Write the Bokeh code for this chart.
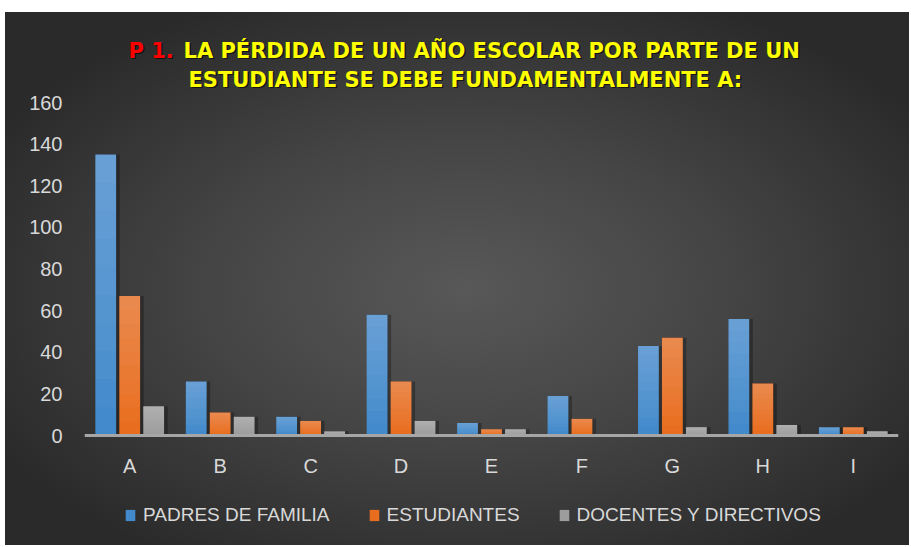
from bokeh.plotting import figure
from bokeh.models import (FactorRange, Range1d, Label, Legend, LegendItem,
                          FixedTicker, ColumnDataSource)
from bokeh.transform import dodge
from bokeh.embed import file_html
from bokeh.resources import INLINE

# ---- data ----
categories = ["A", "B", "C", "D", "E", "F", "G", "H", "I"]
padres = [135, 26, 9, 58, 6, 19, 43, 56, 4]
estudiantes = [67, 11, 7, 26, 3, 8, 47, 25, 4]
docentes = [14, 9, 2, 7, 3, 0, 4, 5, 2]
series_names = ["PADRES DE FAMILIA", "ESTUDIANTES", "DOCENTES Y DIRECTIVOS"]
y_ticks = [0, 20, 40, 60, 80, 100, 120, 140, 160]
title_prefix = "P 1."
title_line1 = "LA PÉRDIDA DE UN AÑO ESCOLAR POR PARTE DE UN"
title_line2 = "ESTUDIANTE SE DEBE FUNDAMENTALMENTE A:"

colors = ["#428acc", "#e96d1e", "#9d9d9d"]
fields = ["padres", "estudiantes", "docentes"]
offsets = [-0.265, 0.0, 0.265]

data = dict(cat=categories, padres=padres, estudiantes=estudiantes, docentes=docentes)
source = ColumnDataSource(data)

# layout geometry (pixels)
W, H = 904, 533
frame_left, frame_right = 79, 11
px_per_unit = 333 / 160.0          # 0..160 spans 333 px
top_pad, bottom_pad = 90, 110      # frame space above 160 and below 0
y_lo = -bottom_pad / px_per_unit
y_hi = y_ticks[-1] + top_pad / px_per_unit

p = figure(x_range=FactorRange(*categories, range_padding=0),
           y_range=Range1d(y_lo, y_hi),
           width=W, height=H, output_backend="svg", toolbar_location=None,
           min_border_left=frame_left, min_border_right=frame_right,
           min_border_top=0, min_border_bottom=0, margin=0,
           styles={"background": "radial-gradient(ellipse 60% 60% at 51% 52%, #585858 0%, #464646 45%, #2a2a2a 100%)",
                   "margin-left": "5px", "margin-top": "12px"})

p.background_fill_color = None
p.border_fill_color = None
p.outline_line_color = None
p.xgrid.visible = False
p.ygrid.visible = False

# axes
p.yaxis.ticker = FixedTicker(ticks=y_ticks)
p.yaxis.axis_line_color = None
p.yaxis.major_tick_line_color = None
p.yaxis.minor_tick_line_color = None
p.yaxis.major_tick_in = 0
p.yaxis.major_tick_out = 0
p.yaxis.major_label_standoff = 22
p.yaxis.major_label_text_font = "Liberation Sans"
p.yaxis.major_label_text_font_size = "20px"
p.yaxis.major_label_text_color = "#d9d9d9"

p.xaxis.fixed_location = 0
p.xaxis.axis_line_color = "#a6a6a6"
p.xaxis.axis_line_width = 3
p.xaxis.major_tick_line_color = None
p.xaxis.minor_tick_line_color = None
p.xaxis.major_tick_in = 0
p.xaxis.major_tick_out = 0
p.xaxis.major_label_standoff = 19
p.xaxis.major_label_text_font = "Liberation Sans"
p.xaxis.major_label_text_font_size = "20px"
p.xaxis.major_label_text_color = "#d9d9d9"

# shadows
for off, field in zip(offsets, fields):
    p.vbar(x=dodge("cat", off + 0.04, range=p.x_range), top=field, width=0.23,
           source=source, fill_color="black", fill_alpha=0.28, line_color=None)
# bars
renderers = []
for off, field, color in zip(offsets, fields, colors):
    r = p.vbar(x=dodge("cat", off, range=p.x_range), top=field, width=0.23,
               source=source, fill_color=color, line_color=None)
    renderers.append(r)
# vertical light gradient overlays (lighter towards the top)
N = 10
for k in range(1, N):
    layer = dict(cat=categories)
    for field in fields:
        layer[field + "_b"] = [v * k / N for v in data[field]]
        layer[field] = data[field]
    ls = ColumnDataSource(layer)
    for off, field in zip(offsets, fields):
        p.vbar(x=dodge("cat", off, range=p.x_range), bottom=field + "_b", top=field,
               width=0.23, source=ls, fill_color="white", fill_alpha=0.028, line_color=None)

legend = Legend(items=[LegendItem(label=n, renderers=[r]) for n, r in zip(series_names, renderers)],
                orientation="horizontal", location=(40, 19),
                glyph_width=12, glyph_height=14, label_height=14,
                label_standoff=7, spacing=38, padding=0, margin=0,
                border_line_color=None, background_fill_alpha=0,
                label_text_font="Liberation Sans", label_text_font_size="19px",
                label_text_color="#d9d9d9")
p.add_layout(legend, "center")

# title (screen units: from frame left / frame bottom)
def tlabel(txt, x, y, color):
    p.add_layout(Label(x=x + 1.5, y=y - 1.5, x_units="screen", y_units="screen", text=txt,
                       text_font="DejaVu Sans", text_font_style="bold", text_font_size="21px",
                       text_color="black", text_alpha=0.6, text_baseline="alphabetic"))
    p.add_layout(Label(x=x, y=y, x_units="screen", y_units="screen", text=txt,
                       text_font="DejaVu Sans", text_font_style="bold", text_font_size="21px",
                       text_color=color, text_baseline="alphabetic"))

tlabel(title_prefix, 44, 495, "#ff0000")
tlabel(title_line1, 99, 495, "#ffff00")
tlabel(title_line2, 104, 466, "#ffff00")

open("out.html", "w").write(file_html(p, INLINE))
